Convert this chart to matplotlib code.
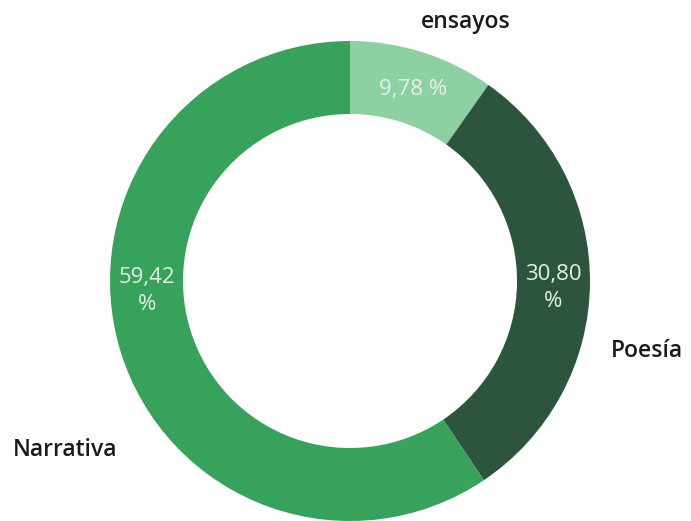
import matplotlib
matplotlib.use("Agg")
import matplotlib.pyplot as plt

categories = ["ensayos", "Poesía", "Narrativa"]
values = [9.78, 30.80, 59.42]
pct_labels = ["9,78 %", "30,80\n%", "59,42\n%"]
colors = ["#8dd0a1", "#2d553d", "#37a25b"]

plt.rcParams['font.family'] = ['Open Sans', 'DejaVu Sans']

fig = plt.figure(figsize=(6.91, 5.21), dpi=100)
ax = fig.add_axes([0, 0, 1, 1])

H = 521
cx, cy, R = 350, H - 281, 240
ax.pie(values, colors=colors, startangle=90, counterclock=False,
       center=(cx, cy), radius=R,
       wedgeprops=dict(width=R - 167, edgecolor='none'),
       frame=True)
ax.set_xlim(0, 691)
ax.set_ylim(0, H)
ax.set_aspect('equal')
ax.axis('off')

# percentage labels: (center x, first-line baseline y)
pct_pos = [(413, 95), (553, 280), (147, 283)]
for (x, yb), t in zip(pct_pos, pct_labels):
    for i, line in enumerate(t.split("\n")):
        ax.text(x, H - (yb + i * 27), line, ha='center', va='baseline',
                color='#e3f2e5', fontsize=16)

cat_pos = [(466, 28), (647, 357), (65, 456)]
for (x, yb), t in zip(cat_pos, categories):
    ax.text(x, H - yb, t, ha='center', va='baseline', color='#1a1a1a',
            fontsize=16.5, fontweight='semibold')

fig.savefig("out.png", dpi=100)
